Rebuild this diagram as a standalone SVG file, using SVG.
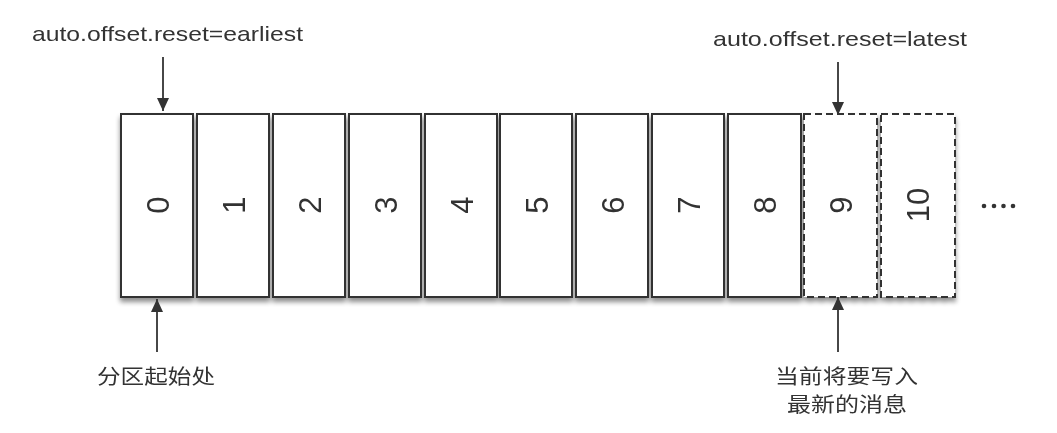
<svg xmlns="http://www.w3.org/2000/svg" width="1057" height="433" viewBox="0 0 1057 433">
  <defs>
    <style>
      .box { fill: #ffffff; stroke: #333333; stroke-width: 2; }
      .dash { stroke-dasharray: 7 4; }
      .num { font-family: "Liberation Sans", Arial, sans-serif; font-size: 31px; fill: #333333; text-anchor: middle; dominant-baseline: central; }
      .lbl { font-family: "Liberation Sans", Arial, sans-serif; font-size: 21px; fill: #333333; }
      .cjk { font-family: "Noto Sans CJK SC", "Noto Sans", sans-serif; font-size: 20px; fill: #333333; }
      .conn { stroke: #333333; stroke-width: 1.8; fill: none; marker-end: url(#arrow); }
    </style>
    <marker id="arrow" markerUnits="userSpaceOnUse" markerWidth="13" markerHeight="12" refX="13" refY="6" orient="auto">
      <path d="M0,0 L13,6 L0,12 z" fill="#333333"/>
    </marker>
    <filter id="shadow" x="-10%" y="-10%" width="120%" height="130%">
      <feGaussianBlur in="SourceAlpha" stdDeviation="2.5"/>
      <feOffset dx="0" dy="4" result="b"/>
      <feComponentTransfer><feFuncA type="linear" slope="0.45"/></feComponentTransfer>
      <feMerge><feMergeNode/><feMergeNode in="SourceGraphic"/></feMerge>
    </filter>
  </defs>
  <rect width="1057" height="433" fill="#ffffff"/>

  <g id="partitions" filter="url(#shadow)">
    <g id="p0"><rect class="box" x="121" y="114" width="72" height="183"/><text class="num" transform="translate(158,205) rotate(-90)">0</text></g>
    <g id="p1"><rect class="box" x="197" y="114" width="72" height="183"/><text class="num" transform="translate(234,205) rotate(-90)">1</text></g>
    <g id="p2"><rect class="box" x="273" y="114" width="72" height="183"/><text class="num" transform="translate(310,205) rotate(-90)">2</text></g>
    <g id="p3"><rect class="box" x="349" y="114" width="72" height="183"/><text class="num" transform="translate(386,205) rotate(-90)">3</text></g>
    <g id="p4"><rect class="box" x="425" y="114" width="72" height="183"/><text class="num" transform="translate(462,205) rotate(-90)">4</text></g>
    <g id="p5"><rect class="box" x="500" y="114" width="72" height="183"/><text class="num" transform="translate(537,205) rotate(-90)">5</text></g>
    <g id="p6"><rect class="box" x="576" y="114" width="72" height="183"/><text class="num" transform="translate(613,205) rotate(-90)">6</text></g>
    <g id="p7"><rect class="box" x="652" y="114" width="72" height="183"/><text class="num" transform="translate(689,205) rotate(-90)">7</text></g>
    <g id="p8"><rect class="box" x="728" y="114" width="73" height="183"/><text class="num" transform="translate(765,205) rotate(-90)">8</text></g>
    <g id="p9"><rect class="box dash" x="804" y="114" width="73" height="183"/><text class="num" transform="translate(841,205) rotate(-90)">9</text></g>
    <g id="p10"><rect class="box dash" x="881" y="114" width="74" height="183"/><text class="num" transform="translate(918,205) rotate(-90)">10</text></g>
  </g>

  <g id="ellipsis" fill="#333333">
    <circle cx="984" cy="206" r="2.3"/>
    <circle cx="994" cy="206" r="2.3"/>
    <circle cx="1003.5" cy="206" r="2.3"/>
    <circle cx="1013" cy="206" r="2.3"/>
  </g>

  <g id="connectors">
    <line class="conn" x1="163" y1="57" x2="163" y2="111"/>
    <line class="conn" x1="838" y1="62" x2="838" y2="115"/>
    <line class="conn" x1="157" y1="352" x2="157" y2="299"/>
    <line class="conn" x1="838" y1="352" x2="838" y2="297"/>
  </g>

  <g id="label-earliest"><text class="lbl" x="32" y="41" textLength="271" lengthAdjust="spacingAndGlyphs">auto.offset.reset=earliest</text></g>
  <g id="label-latest"><text class="lbl" x="713" y="46" textLength="254" lengthAdjust="spacingAndGlyphs">auto.offset.reset=latest</text></g>
  <g id="label-start"><text class="cjk" x="97" y="384" textLength="118" lengthAdjust="spacingAndGlyphs">分区起始处</text></g>
  <g id="label-next">
    <text class="cjk" x="775" y="384" textLength="143" lengthAdjust="spacingAndGlyphs">当前将要写入</text>
    <text class="cjk" x="787" y="412" textLength="120" lengthAdjust="spacingAndGlyphs">最新的消息</text>
  </g>
</svg>
